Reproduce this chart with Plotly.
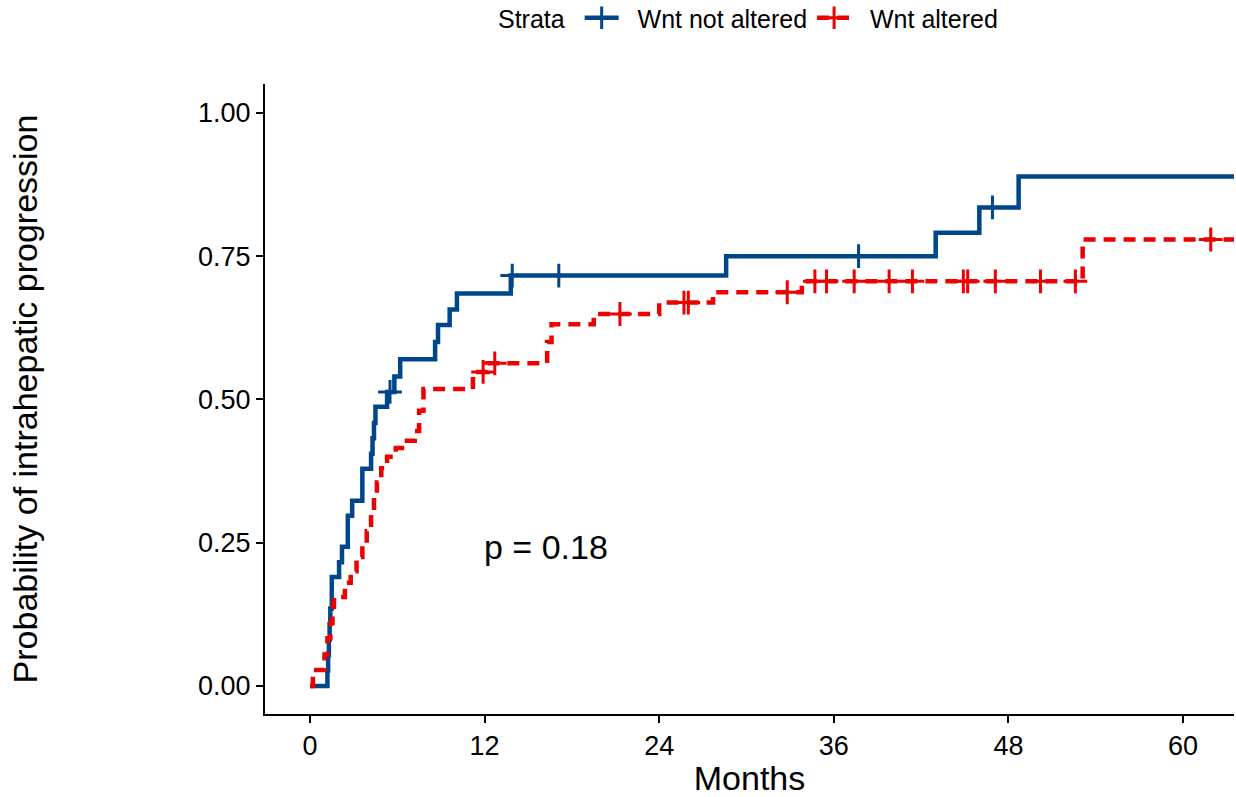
import numpy as np
import plotly.graph_objects as go

# ---- data ----
blue_time = [0, 1.2, 1.25, 1.3, 1.35, 1.4, 1.5, 2.0, 2.2, 2.6, 2.9, 3.6, 4.2, 4.3, 4.4, 4.5,
             5.3, 5.8, 6.2, 8.6, 8.8, 9.6, 10.1, 13.8, 28.6, 43.0, 46.0, 48.7, 64.0]
blue_prob = [0, 0.027, 0.054, 0.081, 0.108, 0.135, 0.19, 0.216, 0.243, 0.297, 0.323, 0.379,
             0.405, 0.432, 0.459, 0.487, 0.513, 0.54, 0.57, 0.60, 0.63, 0.657, 0.685, 0.716,
             0.75, 0.791, 0.835, 0.889, 0.889]
blue_censor = [5.5, 13.9, 17.1, 37.7, 46.9]

red_time = [0, 0.2, 1.0, 1.2, 1.4, 1.55, 1.65, 2.4, 2.8, 3.2, 3.6, 3.9, 4.2, 4.4, 4.6, 4.9,
            5.3, 5.9, 6.5, 7.2, 7.5, 7.8, 11.2, 12.2, 16.3, 16.6, 19.5, 24.0, 27.7, 33.8,
            53.1, 64.0]
red_prob = [0, 0.028, 0.055, 0.083, 0.11, 0.138, 0.155, 0.18, 0.20, 0.225, 0.245, 0.27, 0.30,
            0.33, 0.355, 0.38, 0.40, 0.415, 0.428, 0.445, 0.48, 0.518, 0.548, 0.563, 0.60,
            0.631, 0.649, 0.669, 0.687, 0.706, 0.779, 0.779]
red_censor = [11.9, 12.7, 21.3, 25.7, 26.0, 32.8, 34.7, 35.5, 37.4, 39.8, 41.4, 44.9, 45.2,
              47.1, 50.2, 52.6, 61.9]

x_ticks = [0, 12, 24, 36, 48, 60]
y_ticks = [0, 0.25, 0.5, 0.75, 1.0]
y_tick_labels = ["0.00", "0.25", "0.50", "0.75", "1.00"]

strata = ["Wnt not altered", "Wnt altered"]
colors = ["#00468B", "#ED0000"]
p_text = "p = 0.18"


def step_at(times, probs, t):
    idx = np.searchsorted(np.array(times), t, side="right") - 1
    return np.array(probs)[idx]


FONT = "Liberation Sans, Arial, sans-serif"
fig = go.Figure()

series = [
    (strata[0], blue_time, blue_prob, blue_censor, colors[0], "solid"),
    (strata[1], red_time, red_prob, red_censor, colors[1], "12px,8px"),
]
for name, t, p, cens, col, dash in series:
    fig.add_trace(go.Scatter(
        x=t, y=p, mode="lines", line=dict(color=col, width=4.5, shape="hv", dash=dash),
        name=name, legendgroup=name, showlegend=False, hoverinfo="skip"))
    fig.add_trace(go.Scatter(
        x=cens, y=[step_at(t, p, c) for c in cens], mode="markers",
        marker=dict(symbol="cross-thin", size=17, line=dict(color=col, width=3)),
        name=name, legendgroup=name, showlegend=False, hoverinfo="skip"))
    # legend entry (small leading gap between key and label, as in the original)
    fig.add_trace(go.Scatter(
        x=[None], y=[None], mode="lines+markers",
        line=dict(color=col, width=4.5, dash=dash),
        marker=dict(symbol="cross-thin", size=17, line=dict(color=col, width=3)),
        name="\u00a0\u00a0" + name, legendgroup=name, showlegend=True))

fig.add_annotation(x=16.2, y=0.243, xref="x", yref="y", text=p_text, showarrow=False,
                   font=dict(size=34, color="black", family=FONT))

fig.update_layout(
    width=1236, height=797,
    margin=dict(l=265, r=2, t=84, b=81),
    paper_bgcolor="white", plot_bgcolor="white",
    font=dict(family=FONT, color="black"),
    legend=dict(orientation="h", x=0.5, xanchor="center", xref="paper",
                y=1 - 18 / 797, yanchor="middle", yref="container",
                title=dict(text="Strata ", side="left", font=dict(size=25)),
                font=dict(size=25), itemwidth=34),
    xaxis=dict(range=[-3.09, 63.5], tickmode="array", tickvals=x_ticks,
               showline=True, linecolor="black", linewidth=2, mirror=False,
               ticks="outside", ticklen=7, tickwidth=2, tickcolor="black",
               showgrid=False, zeroline=False, tickfont=dict(size=27),
               title=dict(text="Months", font=dict(size=34), standoff=10)),
    yaxis=dict(range=[-0.049, 1.0504], tickmode="array", tickvals=y_ticks,
               ticktext=y_tick_labels,
               showline=True, linecolor="black", linewidth=2, mirror=False,
               ticks="outside", ticklen=7, tickwidth=2, tickcolor="black",
               showgrid=False, zeroline=False, tickfont=dict(size=27),
               title=dict(text="Probability of intrahepatic progression",
                          font=dict(size=34), standoff=150)),
)

fig.write_html("out.html")
